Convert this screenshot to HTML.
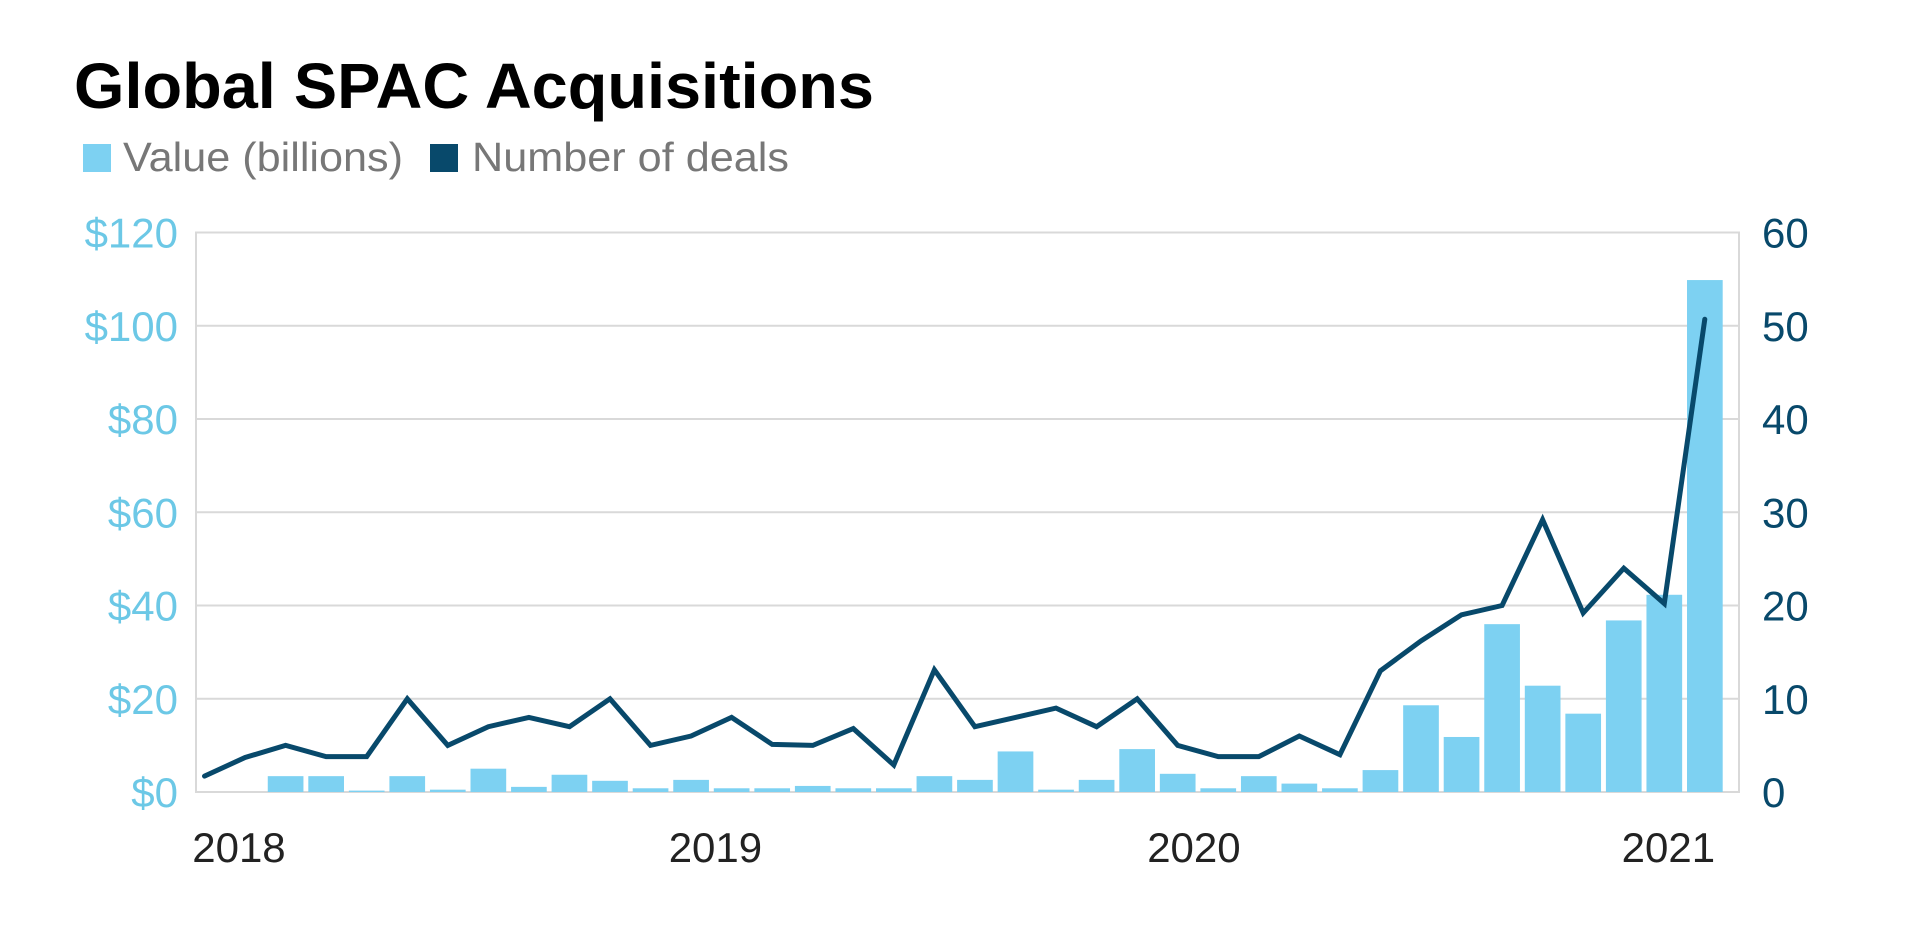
<!DOCTYPE html>
<html><head><meta charset="utf-8"><style>
html,body{margin:0;padding:0;background:#fff;}
svg{display:block;font-family:"Liberation Sans",sans-serif;}
</style></head><body>
<svg id="chart" width="1920" height="925" viewBox="0 0 1920 925" xmlns="http://www.w3.org/2000/svg">
<text x="74" y="108" font-size="64" font-weight="bold" fill="#000" textLength="800" lengthAdjust="spacingAndGlyphs">Global SPAC Acquisitions</text>
<g>
<rect x="83" y="144" width="28" height="28" fill="#7dd1f2"/>
<text x="123" y="171" font-size="41" fill="#777" textLength="280" lengthAdjust="spacingAndGlyphs">Value (billions)</text>
<rect x="430" y="144" width="28" height="28" fill="#08496b"/>
<text x="472" y="171" font-size="41" fill="#777" textLength="317" lengthAdjust="spacingAndGlyphs">Number of deals</text>
</g>
<g id="grid"></g><g id="bars"></g><g id="line"></g><g id="axes"></g>
</svg>
<script>
const months = 38;
const valueData = [0,0,3.4,3.4,0.3,3.4,0.5,5,1.1,3.7,2.4,0.8,2.6,0.8,0.8,1.3,0.8,0.8,3.4,2.6,8.7,0.5,2.6,9.2,3.9,0.8,3.4,1.8,0.8,4.7,18.6,11.8,36,22.8,16.8,36.8,42.3,109.8];
const dealsData = [1.7,3.7,5,3.8,3.8,10,5,7,8,7,10,5,6,8,5.1,5,6.8,2.9,13.1,7,8,9,7,10,5,3.8,3.8,6,4,13,16.2,19,20,29.2,19.2,24,20.2,50.7];
const leftTicks = [0,20,40,60,80,100,120];
const leftLabels = ["$0","$20","$40","$60","$80","$100","$120"];
const rightTicks = [0,10,20,30,40,50,60];
const yearLabels = ["2018","2019","2020","2021"];
const yearMonthIdx = [0.85,12.6,24.4,36.1];

const NS="http://www.w3.org/2000/svg";
const L=196,R=1739,T=232.5,B=792;
const x0=204.5, step=40.55;
const xAt=i=>x0+i*step;
const yL=v=>B-(v/120)*(B-T);
const yR=v=>B-(v/60)*(B-T);
function mk(tag,attrs,parent){const e=document.createElementNS(NS,tag);for(const k in attrs)e.setAttribute(k,attrs[k]);document.getElementById(parent).appendChild(e);return e;}

leftTicks.forEach((t,i)=>{
  const y=yL(t);
  if(t>0){const g=mk('line',{x1:L,x2:R,y1:y,y2:y,stroke:'#d9d9d9','stroke-width':2},'grid');
  
  }
  const lt=mk('text',{x:178,y:y+15,'font-size':42,fill:'#6cc8e6','text-anchor':'end'},'axes');
  lt.textContent=leftLabels[i];
  
  
});
rightTicks.forEach(t=>{
  const rt=mk('text',{x:1762,y:yR(t)+15,'font-size':42,fill:'#08496b'},'axes');
  rt.textContent=String(t);
  
  
});
const fr=mk('rect',{x:L,y:T,width:R-L,height:B-T,fill:'none',stroke:'#d9d9d9','stroke-width':2},'grid');



const bw=step*0.88;
valueData.forEach((v,i)=>{
  if(v<=0)return;
  const b=mk('rect',{x:xAt(i)-bw/2,y:yL(v),width:bw,height:B-yL(v),fill:'#7dd1f2'},'bars');
  
  
});
const pts=dealsData.map((d,i)=>xAt(i).toFixed(1)+','+yR(d).toFixed(1)).join(' ');
const pl=mk('polyline',{points:pts,fill:'none',stroke:'#08496b','stroke-width':5,'stroke-linejoin':'miter','stroke-linecap':'round'},'line');



yearLabels.forEach((y,i)=>{
  const t=mk('text',{x:xAt(yearMonthIdx[i]),y:862,'font-size':42,fill:'#222','text-anchor':'middle'},'axes');
  t.textContent=y;
  
  
});
</script>
</body></html>
